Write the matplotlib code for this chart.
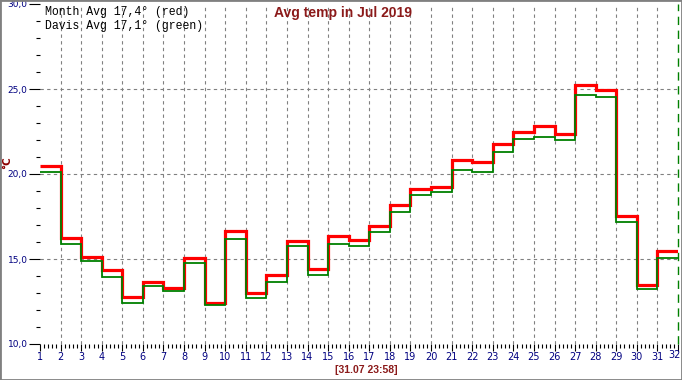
import numpy as np
import matplotlib
matplotlib.use("Agg")
import matplotlib.pyplot as plt
from matplotlib.patches import Rectangle
from matplotlib.ticker import MultipleLocator

# daily averages, July 2019
days = list(range(1, 32))
month_avg = [20.47, 16.24, 15.12, 14.35, 12.76, 13.65, 13.30, 15.06, 12.41, 16.65,
             13.00, 14.06, 16.06, 14.41, 16.35, 16.12, 16.94, 18.18, 19.12, 19.24,
             20.82, 20.71, 21.76, 22.47, 22.82, 22.35, 25.24, 24.94, 17.53, 13.47, 15.47]
davis_avg = [20.12, 15.88, 14.88, 13.94, 12.41, 13.41, 13.12, 14.76, 12.29, 16.18,
             12.70, 13.65, 15.76, 14.06, 15.88, 15.76, 16.59, 17.76, 18.76, 18.94,
             20.24, 20.12, 21.29, 22.06, 22.18, 22.00, 24.65, 24.53, 17.18, 13.24, 15.06]
legend_lines = ["Month Avg 17,4° (red)", "Davis Avg 17,1° (green)"]
title = "Avg temp in Jul 2019"
stamp = "[31.07 23:58]"

W, H = 682, 380
fig = plt.figure(figsize=(W / 100, H / 100), dpi=100)
ax = fig.add_axes([40 / W, 1 - 344 / H, 638 / W, 340 / H])

edges = days + [days[-1] + 1]
ax.stairs(month_avg, edges, color="#ff0000", linewidth=2.3, baseline=None)
ax.stairs(davis_avg, edges, color="#008000", linewidth=1.3, baseline=None)

ax.set_xlim(1, 32)
ax.set_ylim(10, 30)

for s in ax.spines.values():
    s.set_visible(False)

navy = "#000080"
last_day = edges[-1]
ax.xaxis.set_major_locator(MultipleLocator(1))
ax.xaxis.set_minor_locator(MultipleLocator(0.2))
# the last day label is drawn separately so it stays inside the frame
ax.xaxis.set_major_formatter(lambda v, p: "" if round(v) == last_day else f"{v:.0f}")
ax.yaxis.set_major_locator(MultipleLocator(5))
ax.yaxis.set_minor_locator(MultipleLocator(1))
ax.yaxis.set_major_formatter(lambda v, p: f"{v:.1f}".replace(".", ","))
ax.tick_params(axis="x", which="major", length=5, width=0.8, colors="black",
               labelcolor=navy, labelsize=7, pad=1)
ax.tick_params(axis="x", which="minor", length=3, width=0.8, colors="black")
ax.tick_params(axis="y", which="major", length=8, width=0.8, colors="black",
               labelcolor=navy, labelsize=6.5, pad=1)
ax.tick_params(axis="y", which="minor", length=3, width=0.8, colors="black")
ax.xaxis.get_major_ticks()[-1].tick1line.set_color("#008000")
ax.text(last_day + 0.15, -0.018, str(last_day), transform=ax.get_xaxis_transform(),
        ha="right", va="top", color=navy, fontsize=7)

for d in range(2, 32):
    ax.axvline(d, color="#808080", linestyle=(0, (3, 3)), linewidth=0.8, zorder=0)
for t in (15, 20, 25):
    ax.axhline(t, color="#808080", linestyle=(0, (3, 3)), linewidth=0.8, zorder=0)
ax.axvline(last_day, color="#008000", linestyle=(0, (6, 4)), linewidth=1.0, clip_on=False)

maroon = "#8b1a1a"
fig.text(7 / W, 1 - 163 / H, "°C", rotation=90, ha="center", va="center",
         color="#8b0000", fontsize=7.5, fontweight="bold")
fig.text(343 / W, 1 - 13 / H, title, ha="center", va="center", color=maroon,
         fontsize=10, fontweight="bold", family="Liberation Sans")
fig.text(366 / W, 1 - 370 / H, stamp, ha="center", va="center", color=maroon,
         fontsize=7.5, fontweight="bold", family="Liberation Sans")
for i, line in enumerate(legend_lines):
    fig.text(45 / W, 1 - (12 + 14 * i) / H, line, ha="left", va="center",
             color="black", fontsize=8.3, family="Liberation Mono")

fig.patches.append(Rectangle((0, 0), 1, 1, transform=fig.transFigure, fill=False,
                             edgecolor="#808080", linewidth=2))

fig.savefig("out.png", dpi=100)
